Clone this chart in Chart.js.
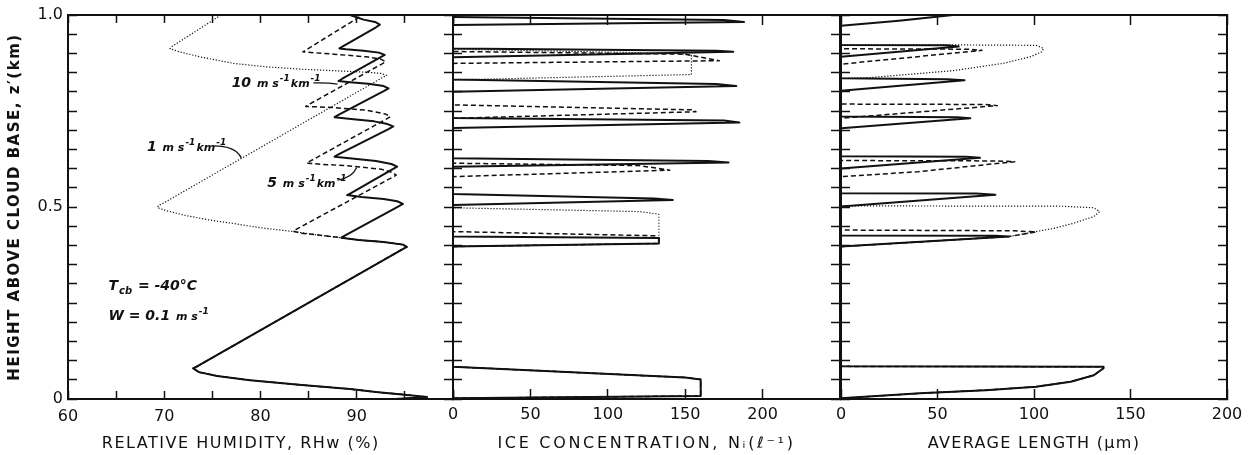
<!DOCTYPE html>
<html>
<head>
<meta charset="utf-8">
<script src="https://cdn.jsdelivr.net/npm/chart.js@4.4.1/dist/chart.umd.min.js"></script>
<style>
	html, body { margin: 0; padding: 0; background: #fff; }
	#painel { position: relative; width: 1255px; height: 455px; overflow: hidden; }
	#painel canvas { position: absolute; top: 0; }
</style>
</head>
<body>
<div id="painel">
	<canvas id="chartUmidade" width="460" height="455" style="left:0"></canvas>
	<canvas id="chartConcentracao" width="410" height="455" style="left:440px"></canvas>
	<canvas id="chartComprimento" width="425" height="455" style="left:830px"></canvas>
</div>
<script>
// pares [valor, altura z' em km]

// umidade relativa (%) - trecho comum ate ~0.42 km
var rhBase = [[94.0, 0.000], [97.3, 0.005], [95.5, 0.010], [92.0, 0.018], [89.3, 0.026], [84.0, 0.037],
	[78.9, 0.049], [75.5, 0.060], [73.6, 0.070], [73.0, 0.080], [73.5, 0.086],
	[94.6, 0.388], [95.2, 0.396], [94.8, 0.402], [92.8, 0.409], [90.2, 0.414], [88.4, 0.420]];
var rh10 = [[88.8, 0.426], [94.3, 0.501], [94.8, 0.508], [94.2, 0.515], [92.8, 0.521], [90.5, 0.526], [89.0, 0.531],
	[89.4, 0.536], [93.7, 0.598], [94.2, 0.605], [93.6, 0.612], [92.0, 0.620], [89.5, 0.626], [87.7, 0.631],
	[88.1, 0.637], [93.3, 0.703], [93.8, 0.710], [93.2, 0.716], [91.8, 0.723], [89.4, 0.729], [87.7, 0.734],
	[88.1, 0.740], [92.8, 0.802], [93.3, 0.809], [92.8, 0.815], [91.2, 0.821], [89.3, 0.825], [88.1, 0.828],
	[88.5, 0.834], [92.4, 0.889], [92.9, 0.896], [92.3, 0.902], [90.7, 0.907], [88.9, 0.911], [88.2, 0.913],
	[88.6, 0.919], [92.0, 0.968], [92.4, 0.975], [91.9, 0.982], [90.7, 0.988], [89.3, 1.000]];
var rh5 = [[86.0, 0.427], [84.2, 0.432], [83.4, 0.437], [83.8, 0.443],
	[93.6, 0.576], [94.1, 0.583], [93.7, 0.590], [92.6, 0.598], [89.3, 0.607], [86.5, 0.611], [84.8, 0.614],
	[85.2, 0.620], [93.0, 0.728], [93.5, 0.735], [93.0, 0.742], [91.0, 0.752], [87.6, 0.759], [84.7, 0.762],
	[85.1, 0.768], [92.5, 0.871], [93.0, 0.878], [92.5, 0.885], [91.0, 0.891], [87.6, 0.898], [84.4, 0.904],
	[84.8, 0.910], [90.6, 1.000]];
var rh1 = [[86.0, 0.427], [83.4, 0.436], [80.0, 0.446], [77.2, 0.457], [74.5, 0.467], [72.0, 0.479],
	[70.3, 0.490], [69.3, 0.498], [69.4, 0.504], [69.9, 0.510],
	[92.6, 0.836], [93.1, 0.843], [92.5, 0.848], [91.0, 0.851], [87.6, 0.855], [84.1, 0.859], [80.6, 0.865],
	[77.2, 0.874], [73.7, 0.891], [71.6, 0.904], [70.6, 0.912], [70.8, 0.918], [75.9, 1.000]];

// concentracao de gelo (por litro)
var niBase = [[0, 0.002], [160, 0.008], [160, 0.051], [150, 0.056], [0, 0.084],
	[0, 0.397], [133, 0.405], [133, 0.419]];
var ni10 = [[0, 0.423],
	[0, 0.505], [142, 0.518], [130, 0.522], [0, 0.534],
	[0, 0.605], [178, 0.616], [165, 0.620], [0, 0.627],
	[0, 0.706], [185, 0.720], [175, 0.725], [0, 0.732],
	[0, 0.800], [183, 0.815], [170, 0.820], [0, 0.832],
	[0, 0.890], [181, 0.904], [170, 0.907], [0, 0.913],
	[0, 0.974], [188, 0.982], [175, 0.987], [0, 0.995]];
var ni5 = [[131, 0.425], [0, 0.436],
	[0, 0.579], [140, 0.596], [120, 0.608], [0, 0.614],
	[0, 0.731], [157, 0.748], [155, 0.753], [0, 0.766],
	[0, 0.874], [172, 0.881], [150, 0.898], [0, 0.905]];
var ni1 = [[133, 0.481], [121, 0.488], [0, 0.498],
	[0, 0.831], [154, 0.845], [154, 0.895], [145, 0.900], [0, 0.911]];

// comprimento medio (micrometros)
var compBase = [[0, 0.002], [41, 0.015], [75, 0.023], [101, 0.032], [119, 0.045], [131, 0.062], [136, 0.080],
	[136, 0.084], [0, 0.085], [0, 0.397], [87, 0.423]];
var comp10 = [[80, 0.425], [0, 0.426],
	[0, 0.501], [80, 0.532], [70, 0.535], [0, 0.536],
	[0, 0.600], [72, 0.628], [65, 0.631], [0, 0.632],
	[0, 0.705], [67, 0.731], [60, 0.734], [0, 0.736],
	[0, 0.803], [64, 0.830], [55, 0.833], [0, 0.835],
	[0, 0.891], [61, 0.918], [55, 0.921], [0, 0.922],
	[0, 0.972], [30, 0.985], [58, 1.000]];
var comp5 = [[101, 0.435], [90, 0.438], [0, 0.440],
	[0, 0.579], [40, 0.592], [90, 0.618], [80, 0.620], [0, 0.621],
	[0, 0.731], [81, 0.764], [75, 0.767], [0, 0.768],
	[0, 0.872], [73, 0.908], [65, 0.911], [0, 0.912]];
var comp1 = [[101, 0.436], [110, 0.444], [120, 0.457], [131, 0.475], [134, 0.488], [131, 0.498], [115, 0.502], [0, 0.503],
	[0, 0.835], [15, 0.837], [32, 0.844], [58, 0.855], [84, 0.874], [98, 0.891], [104, 0.904], [105, 0.913],
	[101, 0.921], [64, 0.922], [0, 0.922]];

// rotulos dos eixos
var rotulosRH = [60, 70, 80, 90];
var rotulosNi = [0, 50, 100, 150, 200];
var rotulosComp = [0, 50, 100, 150, 200];
var rotulosAltura = [0, 0.5, 1.0];

var COR = '#111';
var FONTE = 'DejaVu Sans';

var estilos = {
	cheia: { largura: 2, traco: [] },
	tracejada: { largura: 1.5, traco: [5, 3] },
	pontilhada: { largura: 1.2, traco: [1.2, 1.8] }
};

var estilosTexto = {
	num: { fonte: 'italic bold 14px "' + FONTE + '"', dy: 0 },
	uni: { fonte: 'italic bold 11px "' + FONTE + '"', dy: 0 },
	sup: { fonte: 'italic bold 9px "' + FONTE + '"', dy: -6 },
	sub: { fonte: 'italic bold 10px "' + FONTE + '"', dy: 4 }
};

var textosRH = [
	{ partes: [['10 ', 'num'], ['m s', 'uni'], ['-1', 'sup'], ['km', 'uni'], ['-1', 'sup']], rh: 77.0, z: 0.8125 },
	{ partes: [['1 ', 'num'], ['m s', 'uni'], ['-1', 'sup'], ['km', 'uni'], ['-1', 'sup']], rh: 68.2, z: 0.646 },
	{ partes: [['5 ', 'num'], ['m s', 'uni'], ['-1', 'sup'], ['km', 'uni'], ['-1', 'sup']], rh: 80.7, z: 0.552 },
	{ partes: [['T', 'num'], ['cb', 'sub'], [' = -40°C', 'num']], rh: 64.2, z: 0.284 },
	{ partes: [['W = 0.1 ', 'num'], ['m s', 'uni'], ['-1', 'sup']], rh: 64.2, z: 0.206 }
];
var guiasRH = [
	{ de: [85.5, 0.823], ctrl: [87.0, 0.824], ate: [88.0, 0.820] },
	{ de: [75.1, 0.659], ctrl: [77.4, 0.659], ate: [78.0, 0.628] },
	{ de: [88.0, 0.570], ctrl: [89.5, 0.576], ate: [90.0, 0.603] }
];

var Grafico = Grafico || {};

Grafico.Painel = (function() {

	function Painel(idCanvas, opcoes) {
		this.ctx = document.getElementById(idCanvas);
		this.opcoes = opcoes;
	}

	Painel.prototype.iniciar = function() {
		var o = this.opcoes;
		this.grafico = new Chart(this.ctx, {
			type: 'scatter',
			data: {
				datasets: [
					serie(o.base.concat(o.forte), estilos.cheia),
					serie(o.base.concat(o.media), estilos.tracejada),
					serie(o.base.concat(o.fraca), estilos.pontilhada)
				]
			},
			options: {
				responsive: false,
				animation: false,
				devicePixelRatio: 1,
				layout: { padding: o.margem },
				plugins: {
					legend: { display: false },
					tooltip: { enabled: false }
				},
				scales: {
					x: eixoX(o, 'bottom'),
					x2: eixoX(o, 'top'),
					y: eixoY(o, 'left'),
					y2: eixoY(o, 'right')
				}
			},
			plugins: [espacamento(o.espaco), anotacoes(o.textos || [], o.guias || [])]
		});
	};

	function serie(pontos, estilo) {
		return {
			data: pontos.map(function(p) { return { x: p[0], y: p[1] }; }),
			showLine: true,
			borderColor: COR,
			borderWidth: estilo.largura,
			borderDash: estilo.traco,
			borderJoinStyle: 'round',
			pointRadius: 0,
			pointHoverRadius: 0,
			tension: 0,
			fill: false
		};
	}

	// tamanho fixo, sem a folga que o Chart.js reserva para os rotulos das pontas
	function tamanhoFixo(eixo, largura, altura) {
		if (largura !== null) eixo.width = largura;
		if (altura !== null) eixo.height = altura;
		eixo.paddingLeft = 0;
		eixo.paddingRight = 0;
		eixo.paddingTop = 0;
		eixo.paddingBottom = 0;
	}

	function eixoX(o, posicao) {
		var embaixo = posicao === 'bottom';
		return {
			type: 'linear',
			position: posicao,
			min: o.min,
			max: o.max,
			ticks: {
				display: embaixo,
				stepSize: o.passo,
				autoSkip: false,
				maxRotation: 0,
				padding: 16,
				z: 1,
				color: COR,
				font: { family: FONTE, size: 16 },
				callback: function(v) { return o.rotulos.indexOf(v) >= 0 ? String(v) : ''; }
			},
			grid: { drawOnChartArea: false, tickLength: -o.marca, tickColor: COR, tickWidth: 1.5 },
			border: { color: COR, width: 2 },
			title: {
				display: embaixo,
				text: o.titulo,
				color: COR,
				font: { family: FONTE, size: 16 },
				padding: { top: 0, bottom: 2 }
			},
			afterFit: function(eixo) { tamanhoFixo(eixo, null, embaixo ? 56 : 0); }
		};
	}

	function eixoY(o, posicao) {
		var comRotulo = posicao === 'left' && o.mostraAltura;
		return {
			type: 'linear',
			position: posicao,
			min: 0,
			max: 1,
			ticks: {
				display: comRotulo,
				stepSize: 0.05,
				autoSkip: false,
				padding: 14,
				z: 1,
				color: COR,
				font: { family: FONTE, size: 16 },
				callback: function(v) {
					for (var i = 0; i < rotulosAltura.length; i++) {
						if (Math.abs(rotulosAltura[i] - v) < 1e-6) {
							return rotulosAltura[i] === 0 ? '0' : rotulosAltura[i].toFixed(1);
						}
					}
					return '';
				}
			},
			grid: { drawOnChartArea: false, tickLength: -9, tickColor: COR, tickWidth: 1.5 },
			border: { color: COR, width: 2 },
			title: {
				display: comRotulo,
				text: 'HEIGHT ABOVE CLOUD BASE, z\u2032(km)',
				color: COR,
				font: { family: FONTE, size: 15, weight: 'bold' },
				padding: { top: 6, bottom: 0 }
			},
			afterFit: function(eixo) { tamanhoFixo(eixo, comRotulo ? 68 : 0, null); }
		};
	}

	// espacamento entre letras so para os titulos (desenhados antes dos datasets)
	function espacamento(valor) {
		return {
			id: 'espacamento',
			beforeDraw: function(chart) { chart.ctx.letterSpacing = valor + 'px'; },
			afterDatasetsDraw: function(chart) { chart.ctx.letterSpacing = '0px'; }
		};
	}

	function anotacoes(textos, guias) {
		return {
			id: 'anotacoes',
			afterDraw: function(chart) {
				var ctx = chart.ctx;
				var sx = chart.scales.x;
				var sy = chart.scales.y;
				ctx.save();
				ctx.letterSpacing = '0px';
				ctx.fillStyle = COR;
				ctx.strokeStyle = COR;
				ctx.lineWidth = 1.3;
				ctx.textAlign = 'left';
				ctx.textBaseline = 'alphabetic';
				textos.forEach(function(a) {
					var x = sx.getPixelForValue(a.rh);
					var y = sy.getPixelForValue(a.z);
					a.partes.forEach(function(p) {
						var e = estilosTexto[p[1]];
						ctx.font = e.fonte;
						ctx.fillText(p[0], x, y + e.dy);
						x += ctx.measureText(p[0]).width + 1;
					});
				});
				guias.forEach(function(g) {
					ctx.beginPath();
					ctx.moveTo(sx.getPixelForValue(g.de[0]), sy.getPixelForValue(g.de[1]));
					ctx.quadraticCurveTo(sx.getPixelForValue(g.ctrl[0]), sy.getPixelForValue(g.ctrl[1]),
						sx.getPixelForValue(g.ate[0]), sy.getPixelForValue(g.ate[1]));
					ctx.stroke();
				});
				ctx.restore();
			}
		};
	}

	return Painel;

}());

(function() {
	var umidade = new Grafico.Painel('chartUmidade', {
		base: rhBase, forte: rh10, media: rh5, fraca: rh1,
		min: 60, max: 100, passo: 5, marca: 8, rotulos: rotulosRH,
		titulo: 'RELATIVE HUMIDITY, RHw (%)      ',
		mostraAltura: true, espaco: 1.5,
		margem: { top: 15, left: 0, right: 7, bottom: 0 },
		textos: textosRH, guias: guiasRH
	});
	umidade.iniciar();

	var concentracao = new Grafico.Painel('chartConcentracao', {
		base: niBase, forte: ni10, media: ni5, fraca: ni1,
		min: 0, max: 250, passo: 50, marca: 10, rotulos: rotulosNi,
		titulo: 'ICE CONCENTRATION, N\u1d62(\u2113\u207b\u00b9)',
		mostraAltura: false, espaco: 2.7,
		margem: { top: 15, left: 13, right: 10, bottom: 0 }
	});
	concentracao.iniciar();

	var comprimento = new Grafico.Painel('chartComprimento', {
		base: compBase, forte: comp10, media: comp5, fraca: comp1,
		min: 0, max: 200, passo: 50, marca: 10, rotulos: rotulosComp,
		titulo: 'AVERAGE LENGTH (\u03bcm)',
		mostraAltura: false, espaco: 1.3,
		margem: { top: 15, left: 11, right: 28, bottom: 0 }
	});
	comprimento.iniciar();
}());
</script>
</body>
</html>
